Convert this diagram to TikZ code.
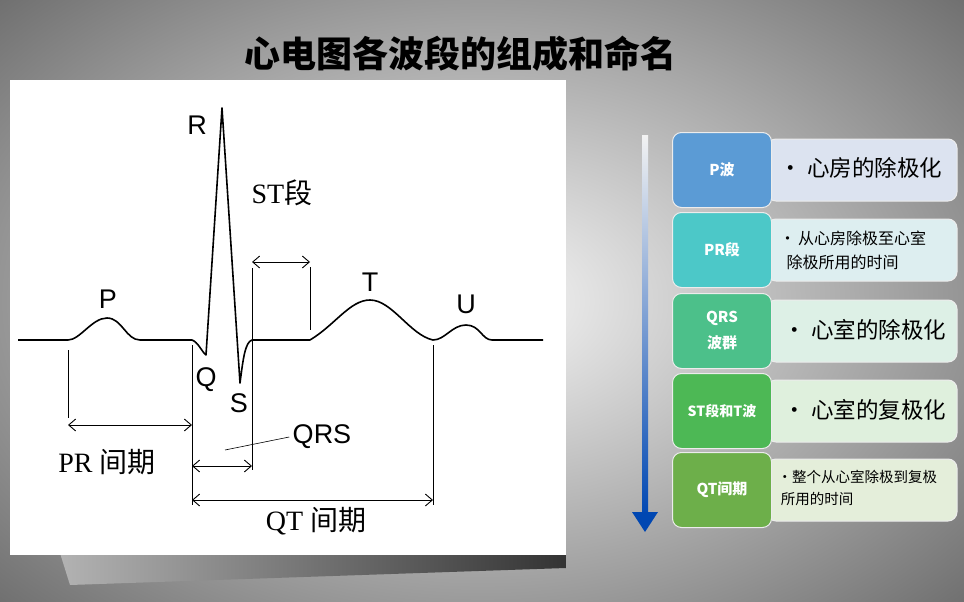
\documentclass[tikz,border=0pt]{standalone}
\usepackage{fontspec}
\setmainfont{Liberation Serif}
\setsansfont{Liberation Sans}
\newfontfamily\cjk{Noto Sans CJK SC}
\usetikzlibrary{arrows.meta}
\definecolor{cP}{HTML}{5B9BD5}\definecolor{cPR}{HTML}{4CC8C8}\definecolor{cQRS}{HTML}{4CC08A}
\definecolor{cST}{HTML}{4DB855}\definecolor{cQT}{HTML}{6DAF4A}
\definecolor{lP}{HTML}{DCE3F0}\definecolor{lPR}{HTML}{DDEEF0}\definecolor{lQRS}{HTML}{DDF0E6}
\definecolor{lST}{HTML}{DFF0DD}\definecolor{lQT}{HTML}{E4EEDA}
\begin{document}
\begin{tikzpicture}[x=1pt,y=-1pt,
  dim/.style={{Straight Barb[length=7pt,width=12pt]}-{Straight Barb[length=7pt,width=12pt]},line width=0.9pt},
  guide/.style={line width=0.5pt},
  lab/.style={font=\sffamily\fontsize{27}{27}\selectfont},
  slab/.style={font=\fontsize{28}{28}\selectfont},
  cbox/.style={rounded corners=9pt,draw=white!85!gray,line width=1pt,text=white,font=\cjk\bfseries\fontsize{15}{26}\selectfont,align=center,minimum width=99pt,minimum height=75pt},
  lbox/.style={rounded corners=9pt,draw=white!85!gray,line width=1pt,minimum width=190pt,minimum height=62pt},
  btxt/.style={font=\cjk\fontsize{22.5}{28}\selectfont,anchor=west},
  stxt/.style={font=\cjk\fontsize{16}{24}\selectfont,anchor=west,align=left}]
\useasboundingbox (0,0) rectangle (964,602);
\shade[inner color=white!94!gray,outer color=gray!85!black] (-200,-150) rectangle (1164,752);
% shadow of panel
\shade[left color=gray!60,right color=black!80] (60,553) -- (566,553) -- (566,568) -- (70,585) -- cycle;
\fill[white] (10,80) rectangle (566,555);
\node[font=\cjk\bfseries\fontsize{36}{38}\selectfont] (title) at (460,54) {心电图各波段的组成和命名};
% ECG
\draw[line width=1.6pt,line join=round] (18,340) -- (68,340) .. controls (80,340) and (92,318) .. (107,318)
  .. controls (122,318) and (126,340) .. (140,340) -- (192,340) .. controls (198,342) and (202,352) .. (206,355)
  -- (222,108) -- (240,383) .. controls (243,360) and (245,342) .. (252,340) -- (310,340)
  .. controls (335,325) and (350,300) .. (370,300) .. controls (392,300) and (410,335) .. (433,340)
  .. controls (445,340) and (452,325) .. (466,325) .. controls (480,325) and (482,340) .. (492,340) -- (543,340);
\coordinate (a1) at (68,350);\coordinate (a2) at (68,418);
\coordinate (b1) at (192,345);\coordinate (b2) at (192,505);
\coordinate (c1) at (252,268);\coordinate (c2) at (252,470);
\coordinate (d1) at (310,267);\coordinate (d2) at (310,330);
\coordinate (e1) at (433,345);\coordinate (e2) at (433,505);
\draw[guide] (a1)--(a2) (b1)--(b2) (c1)--(c2) (d1)--(d2) (e1)--(e2);
\coordinate (pr1) at (68,425);\coordinate (pr2) at (192,425);
\coordinate (st1) at (252,262);\coordinate (st2) at (310,262);
\coordinate (q1) at (192,466);\coordinate (q2) at (252,466);
\coordinate (qt1) at (192,500);\coordinate (qt2) at (433,500);
\draw[dim] (pr1)--(pr2);\draw[dim] (st1)--(st2);\draw[dim] (q1)--(q2);\draw[dim] (qt1)--(qt2);
\node[lab] (R) at (197,125) {R};
\node[lab] (P) at (108,299) {P};
\node[lab] (T) at (370,282) {T};
\node[lab] (U) at (466,304) {U};
\node[lab] (Q) at (206,380) {Q};
\node[lab] (S) at (239,403) {S};
\node[lab] (QRS) at (322,437) {QRS};
\coordinate (ql) at (225,450);
\draw[line width=0.6pt] (ql) -- (QRS.west);
\node[slab] (ST) at (282,193) {ST{\cjk 段}};
\node[slab] (PRl) at (107,462) {PR {\cjk 间期}};
\node[slab] (QTl) at (316,521) {QT {\cjk 间期}};
% right panel
\shade[top color=white!90!gray,bottom color=blue!60!cyan!70!black] (642,135) rectangle (648,515);
\fill[blue!60!cyan!70!black] (632,512) -- (658,512) -- (645,532) -- cycle;
\foreach \c/\l/\y in {P/lP/170,PR/lPR/250,QRS/lQRS/331,ST/lST/411,QT/lQT/490}
  \node[lbox,fill=\l] (L\c) at (862,\y) {};
\node[cbox,fill=cP] (P1) at (722,170) {P波};
\node[cbox,fill=cPR] (P2) at (722,250) {PR段};
\node[cbox,fill=cQRS] (P3) at (722,331) {QRS\\波群};
\node[cbox,fill=cST,font=\cjk\bfseries\fontsize{14}{20}\selectfont] (P4) at (722,411) {ST段和T波};
\node[cbox,fill=cQT] (P5) at (722,490) {QT间期};
\node[btxt] (t1) at (776,168) {• 心房的除极化};
\node[stxt] (t2) at (776,250) {•\,从心房除极至心室\\\ \ 除极所用的时间};
\node[btxt] (t3) at (780,330) {• 心室的除极化};
\node[btxt] (t4) at (780,410) {• 心室的复极化};
\node[stxt,font=\cjk\fontsize{14.5}{22}\selectfont] (t5) at (774,488) {•整个从心室除极到复极\\\ 所用的时间};
\end{tikzpicture}
\end{document}
